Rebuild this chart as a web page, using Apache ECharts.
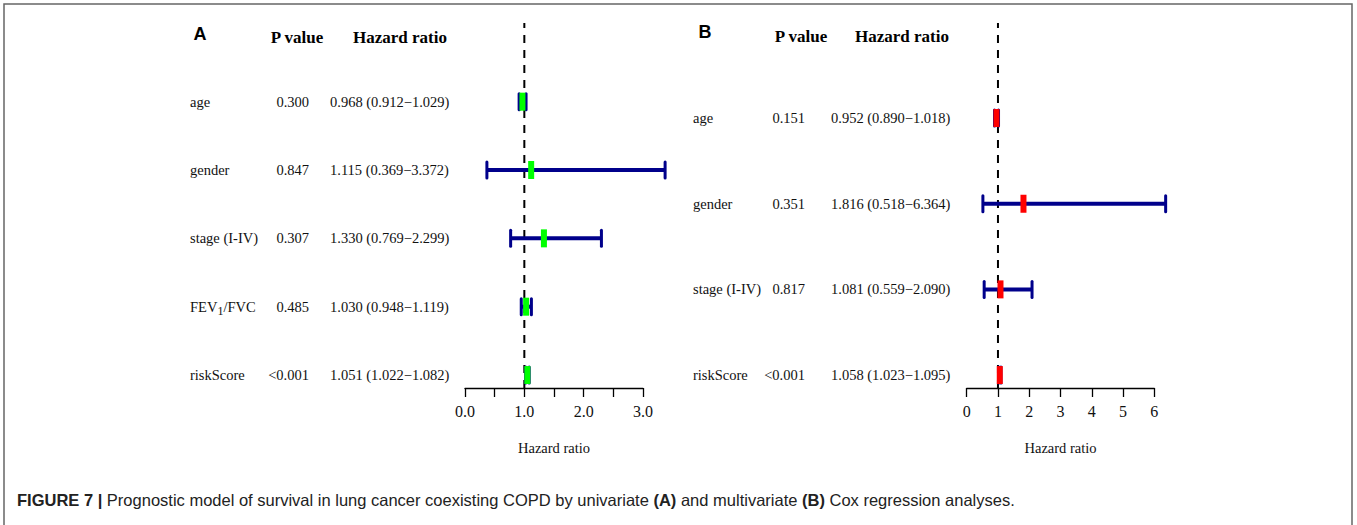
<!DOCTYPE html>
<html>
<head>
<meta charset="utf-8">
<script src="https://cdn.jsdelivr.net/npm/echarts@6/dist/echarts.min.js"></script>
<style>
  html, body { margin: 0; padding: 0; background: #fff; }
  #chart { width: 1357px; height: 525px; }
</style>
</head>
<body>
<div id="chart"></div>
<script>
// panel A - univariate
var namesA = ["age", "gender", "stage (I-IV)", "FEV1/FVC", "riskScore"];
var pA = ["0.300", "0.847", "0.307", "0.485", "<0.001"];
var hrA = [0.968, 1.115, 1.330, 1.030, 1.051];
var lowA = [0.912, 0.369, 0.769, 0.948, 1.022];
var highA = [1.029, 3.372, 2.299, 1.119, 1.082];
var ticksA = ["0.0", "1.0", "2.0", "3.0"];

// panel B - multivariate
var namesB = ["age", "gender", "stage (I-IV)", "riskScore"];
var pB = ["0.151", "0.351", "0.817", "<0.001"];
var hrB = [0.952, 1.816, 1.081, 1.058];
var lowB = [0.890, 0.518, 0.559, 1.023];
var highB = [1.018, 6.364, 2.090, 1.095];
var ticksB = ["0", "1", "2", "3", "4", "5", "6"];

var refValue = 1;

var serif = "Liberation Serif";
var sans = "Liberation Sans";
var navy = "#00008B";

function hrText(hr, lo, hi) {
  return hr.toFixed(3) + " (" + lo.toFixed(3) + "\u2212" + hi.toFixed(3) + ")";
}

function forestItem(boxColor) {
  return function (params, api) {
    var row = api.value(0);
    var lo = api.coord([api.value(1), row]);
    var hi = api.coord([api.value(2), row]);
    var mid = api.coord([api.value(3), row]);
    var y = mid[1];
    return {
      type: "group",
      children: [
        { type: "line", shape: { x1: lo[0], y1: y, x2: hi[0], y2: y },
          style: { stroke: navy, lineWidth: 4 } },
        { type: "line", shape: { x1: lo[0], y1: y - 8, x2: lo[0], y2: y + 8 },
          style: { stroke: navy, lineWidth: 3, lineCap: "round" } },
        { type: "line", shape: { x1: hi[0], y1: y - 8, x2: hi[0], y2: y + 8 },
          style: { stroke: navy, lineWidth: 3, lineCap: "round" } },
        { type: "rect", shape: { x: mid[0] - 3, y: y - 9, width: 6, height: 18 },
          style: { fill: boxColor } }
      ]
    };
  };
}

function rows(hr, lo, hi) {
  return hr.map(function (v, i) { return [i, lo[i], hi[i], v]; });
}

var rowLabel = { fontFamily: serif, fontSize: 14.5, color: "#111" };
function textAxis(gridIndex, data, offset, align, extra) {
  var label = Object.assign({ margin: 0, align: align }, rowLabel, extra || {});
  return {
    gridIndex: gridIndex, type: "category", inverse: true, position: "left",
    offset: offset, data: data,
    axisLine: { show: false }, axisTick: { show: false }, splitLine: { show: false },
    axisLabel: label
  };
}

function refAxis(gridIndex, max, interval, ticks, fmt) {
  return {
    gridIndex: gridIndex, type: "value", min: 0, max: max, interval: interval,
    name: "Hazard ratio", nameLocation: "middle", nameGap: 52,
    nameTextStyle: { fontFamily: serif, fontSize: 14.5, color: "#111" },
    axisLine: { lineStyle: { color: "#000", width: 1.3 } },
    axisTick: { length: 9, lineStyle: { color: "#000", width: 1.3 } },
    splitLine: { show: false },
    axisLabel: { margin: 15, fontFamily: serif, fontSize: 16, color: "#111", formatter: fmt }
  };
}

var nameFmt = function (v) {
  return v === "FEV1/FVC" ? "FEV{s|1}/FVC" : v;
};
var subRich = { s: { fontFamily: serif, fontSize: 12, color: "#111", padding: [9, 0, 0, 0] } };

var option = {
  animation: false,
  backgroundColor: "#fff",
  grid: [
    // A: data rows
    { left: 465, top: 67.5, width: 207.7, height: 341.7 },
    // A: axis + ref line
    { left: 465, top: 23, width: 178, height: 365 },
    // B: data rows
    { left: 966.7, top: 75.2, width: 203.2, height: 342.7 },
    // B: axis + ref line
    { left: 966.7, top: 23, width: 187.6, height: 365 }
  ],
  xAxis: [
    { gridIndex: 0, type: "value", min: 0, max: 3.5, show: false },
    refAxis(1, 3, 0.5, ticksA, function (v) {
      var s = v.toFixed(1);
      return ticksA.indexOf(s) >= 0 ? s : "";
    }),
    { gridIndex: 2, type: "value", min: 0, max: 6.5, show: false },
    refAxis(3, 6, 1, ticksB, function (v) {
      var s = String(v);
      return ticksB.indexOf(s) >= 0 ? s : "";
    })
  ],
  yAxis: [
    textAxis(0, namesA, 275, "left", { formatter: nameFmt, rich: subRich }),
    textAxis(0, pA, 156, "right"),
    textAxis(0, namesA.map(function (n, i) { return hrText(hrA[i], lowA[i], highA[i]); }), 135, "left"),
    { gridIndex: 1, type: "value", min: 0, max: 1, show: false },
    textAxis(2, namesB, 273.7, "left"),
    textAxis(2, pB, 161.7, "right"),
    textAxis(2, namesB.map(function (n, i) { return hrText(hrB[i], lowB[i], highB[i]); }), 135.7, "left"),
    { gridIndex: 3, type: "value", min: 0, max: 1, show: false }
  ],
  series: [
    { type: "custom", xAxisIndex: 0, yAxisIndex: 0, renderItem: forestItem("#00FF00"),
      encode: { x: [1, 2, 3], y: 0 }, data: rows(hrA, lowA, highA), z: 3 },
    { type: "line", xAxisIndex: 1, yAxisIndex: 3, symbol: "none",
      lineStyle: { color: "#000", width: 2, type: [8, 7] },
      data: [[refValue, 0], [refValue, 1]], z: 1 },
    { type: "custom", xAxisIndex: 2, yAxisIndex: 4, renderItem: forestItem("#FF0000"),
      encode: { x: [1, 2, 3], y: 0 }, data: rows(hrB, lowB, highB), z: 3 },
    { type: "line", xAxisIndex: 3, yAxisIndex: 7, symbol: "none",
      lineStyle: { color: "#000", width: 2, type: [8, 7] },
      data: [[refValue, 0], [refValue, 1]], z: 1 }
  ],
  graphic: [
    { type: "rect", shape: { x: 4, y: 4, width: 1348, height: 600 },
      style: { fill: "none", stroke: "#666", lineWidth: 1.5 }, silent: true },
    { type: "text", x: 200, y: 34, style: { text: "A", font: "bold 18px " + sans, fill: "#000",
      textAlign: "center", textVerticalAlign: "middle" } },
    { type: "text", x: 297, y: 37, style: { text: "P value", font: "bold 17px " + serif, fill: "#000",
      textAlign: "center", textVerticalAlign: "middle" } },
    { type: "text", x: 400, y: 37, style: { text: "Hazard ratio", font: "bold 17px " + serif, fill: "#000",
      textAlign: "center", textVerticalAlign: "middle" } },
    { type: "text", x: 705, y: 32, style: { text: "B", font: "bold 18px " + sans, fill: "#000",
      textAlign: "center", textVerticalAlign: "middle" } },
    { type: "text", x: 801, y: 36, style: { text: "P value", font: "bold 17px " + serif, fill: "#000",
      textAlign: "center", textVerticalAlign: "middle" } },
    { type: "text", x: 902, y: 36, style: { text: "Hazard ratio", font: "bold 17px " + serif, fill: "#000",
      textAlign: "center", textVerticalAlign: "middle" } },
    { type: "text", x: 17, y: 500, style: {
      text: "{b|FIGURE 7 |} Prognostic model of survival in lung cancer coexisting COPD by univariate {b|(A)} and multivariate {b|(B)} Cox regression analyses.",
      font: "16.5px " + sans, fill: "#222", textVerticalAlign: "middle",
      rich: { b: { fontFamily: sans, fontSize: 16.5, fontWeight: "bold", color: "#222" } } } }
  ]
};

var chart = echarts.init(document.getElementById("chart"), null, { renderer: "svg" });
chart.setOption(option);
window.addEventListener("resize", function () { chart.resize(); });
</script>
</body>
</html>
